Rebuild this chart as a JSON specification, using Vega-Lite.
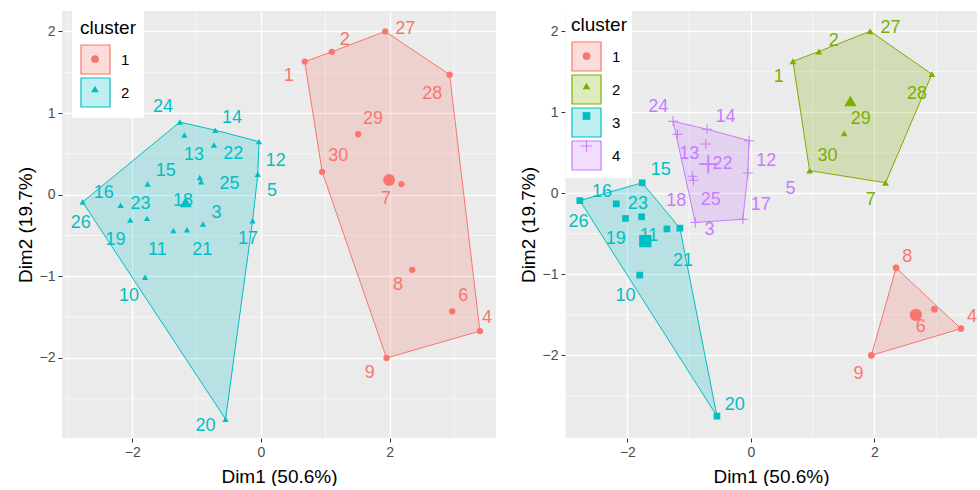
{
  "$schema": "https://vega.github.io/schema/vega-lite/v6.json",
  "padding": {"left": 16, "top": 10, "right": 0, "bottom": 0},
  "config": {
    "font": "Liberation Sans",
    "view": {"fill": "#EBEBEB", "stroke": null},
    "axis": {"grid": true, "gridColor": "#FFFFFF", "gridWidth": 1.3, "domain": false, "tickColor": "#333333", "tickSize": 4, "tickWidth": 1, "labelColor": "#4D4D4D", "labelFontSize": 14, "labelPadding": 3, "titleFontSize": 19, "titleFontWeight": "normal", "titleColor": "#000000", "format": "d"},
    "axisX": {"titlePadding": 8},
    "axisY": {"titlePadding": 3, "minExtent": 24, "maxExtent": 24},
    "concat": {"spacing": 22}
  },
  "datasets": {
    "pts": [
      {"id": 1, "x": 0.68, "y": 1.63, "k2": "1", "k4": "2", "lx2": 0.43, "ly2": 1.45, "lx4": 0.45, "ly4": 1.43},
      {"id": 2, "x": 1.10, "y": 1.75, "k2": "1", "k4": "2", "lx2": 1.30, "ly2": 1.89, "lx4": 1.34, "ly4": 1.88},
      {"id": 3, "x": -0.90, "y": -0.36, "k2": "2", "k4": "4", "lx2": -0.69, "ly2": -0.22, "lx4": -0.67, "ly4": -0.45},
      {"id": 4, "x": 3.40, "y": -1.67, "k2": "1", "k4": "1", "lx2": 3.51, "ly2": -1.51, "lx4": 3.58, "ly4": -1.53},
      {"id": 5, "x": -0.05, "y": 0.25, "k2": "2", "k4": "4", "lx2": 0.17, "ly2": 0.04, "lx4": 0.64, "ly4": 0.05},
      {"id": 6, "x": 2.97, "y": -1.43, "k2": "1", "k4": "1", "lx2": 3.14, "ly2": -1.24, "lx4": 2.75, "ly4": -1.65},
      {"id": 7, "x": 2.18, "y": 0.13, "k2": "1", "k4": "2", "lx2": 1.94, "ly2": -0.05, "lx4": 1.94, "ly4": -0.08},
      {"id": 8, "x": 2.35, "y": -0.92, "k2": "1", "k4": "1", "lx2": 2.13, "ly2": -1.11, "lx4": 2.53, "ly4": -0.79},
      {"id": 9, "x": 1.95, "y": -2.00, "k2": "1", "k4": "1", "lx2": 1.69, "ly2": -2.18, "lx4": 1.74, "ly4": -2.23},
      {"id": 10, "x": -1.80, "y": -1.01, "k2": "2", "k4": "3", "lx2": -2.05, "ly2": -1.24, "lx4": -2.03, "ly4": -1.27},
      {"id": 11, "x": -1.36, "y": -0.44, "k2": "2", "k4": "3", "lx2": -1.61, "ly2": -0.68, "lx4": -1.65, "ly4": -0.53},
      {"id": 12, "x": -0.03, "y": 0.65, "k2": "2", "k4": "4", "lx2": 0.23, "ly2": 0.41, "lx4": 0.25, "ly4": 0.40},
      {"id": 13, "x": -1.19, "y": 0.73, "k2": "2", "k4": "4", "lx2": -1.04, "ly2": 0.49, "lx4": -1.00, "ly4": 0.48},
      {"id": 14, "x": -0.71, "y": 0.79, "k2": "2", "k4": "4", "lx2": -0.45, "ly2": 0.94, "lx4": -0.41, "ly4": 0.94},
      {"id": 15, "x": -1.76, "y": 0.13, "k2": "2", "k4": "3", "lx2": -1.48, "ly2": 0.29, "lx4": -1.46, "ly4": 0.29},
      {"id": 16, "x": -2.18, "y": -0.13, "k2": "2", "k4": "3", "lx2": -2.44, "ly2": 0.02, "lx4": -2.41, "ly4": 0.02},
      {"id": 17, "x": -0.13, "y": -0.32, "k2": "2", "k4": "4", "lx2": -0.20, "ly2": -0.54, "lx4": 0.16, "ly4": -0.14},
      {"id": 18, "x": -0.93, "y": 0.16, "k2": "2", "k4": "4", "lx2": -1.21, "ly2": -0.08, "lx4": -1.21, "ly4": -0.09},
      {"id": 19, "x": -2.03, "y": -0.31, "k2": "2", "k4": "3", "lx2": -2.26, "ly2": -0.56, "lx4": -2.19, "ly4": -0.56},
      {"id": 20, "x": -0.55, "y": -2.75, "k2": "2", "k4": "3", "lx2": -0.86, "ly2": -2.83, "lx4": -0.26, "ly4": -2.61},
      {"id": 21, "x": -1.15, "y": -0.43, "k2": "2", "k4": "3", "lx2": -0.91, "ly2": -0.68, "lx4": -1.10, "ly4": -0.83},
      {"id": 22, "x": -0.73, "y": 0.61, "k2": "2", "k4": "4", "lx2": -0.43, "ly2": 0.50, "lx4": -0.46, "ly4": 0.36},
      {"id": 23, "x": -1.77, "y": -0.29, "k2": "2", "k4": "3", "lx2": -1.87, "ly2": -0.11, "lx4": -1.83, "ly4": -0.13},
      {"id": 24, "x": -1.26, "y": 0.89, "k2": "2", "k4": "4", "lx2": -1.52, "ly2": 1.07, "lx4": -1.50, "ly4": 1.06},
      {"id": 25, "x": -0.95, "y": 0.21, "k2": "2", "k4": "4", "lx2": -0.49, "ly2": 0.13, "lx4": -0.65, "ly4": -0.08},
      {"id": 26, "x": -2.77, "y": -0.09, "k2": "2", "k4": "3", "lx2": -2.80, "ly2": -0.35, "lx4": -2.79, "ly4": -0.35},
      {"id": 27, "x": 1.93, "y": 2.00, "k2": "1", "k4": "2", "lx2": 2.24, "ly2": 2.03, "lx4": 2.26, "ly4": 2.04},
      {"id": 28, "x": 2.93, "y": 1.47, "k2": "1", "k4": "2", "lx2": 2.66, "ly2": 1.23, "lx4": 2.69, "ly4": 1.23},
      {"id": 29, "x": 1.51, "y": 0.74, "k2": "1", "k4": "2", "lx2": 1.74, "ly2": 0.93, "lx4": 1.78, "ly4": 0.92},
      {"id": 30, "x": 0.95, "y": 0.28, "k2": "1", "k4": "2", "lx2": 1.20, "ly2": 0.48, "lx4": 1.24, "ly4": 0.46}
    ],
    "hull2": [
      {"grp": "c1", "ord": 1, "id": 1}, {"grp": "c1", "ord": 2, "id": 2}, {"grp": "c1", "ord": 3, "id": 27}, {"grp": "c1", "ord": 4, "id": 28}, {"grp": "c1", "ord": 5, "id": 4}, {"grp": "c1", "ord": 6, "id": 9}, {"grp": "c1", "ord": 7, "id": 30},
      {"grp": "c2", "ord": 1, "id": 24}, {"grp": "c2", "ord": 2, "id": 14}, {"grp": "c2", "ord": 3, "id": 12}, {"grp": "c2", "ord": 4, "id": 5}, {"grp": "c2", "ord": 5, "id": 17}, {"grp": "c2", "ord": 6, "id": 20}, {"grp": "c2", "ord": 7, "id": 26}
    ],
    "hull4": [
      {"grp": "c1", "ord": 1, "id": 8}, {"grp": "c1", "ord": 2, "id": 4}, {"grp": "c1", "ord": 3, "id": 9},
      {"grp": "c2", "ord": 1, "id": 1}, {"grp": "c2", "ord": 2, "id": 2}, {"grp": "c2", "ord": 3, "id": 27}, {"grp": "c2", "ord": 4, "id": 28}, {"grp": "c2", "ord": 5, "id": 7}, {"grp": "c2", "ord": 6, "id": 30},
      {"grp": "c3", "ord": 1, "id": 26}, {"grp": "c3", "ord": 2, "id": 15}, {"grp": "c3", "ord": 3, "id": 21}, {"grp": "c3", "ord": 4, "id": 20},
      {"grp": "c4", "ord": 1, "id": 24}, {"grp": "c4", "ord": 2, "id": 14}, {"grp": "c4", "ord": 3, "id": 12}, {"grp": "c4", "ord": 4, "id": 5}, {"grp": "c4", "ord": 5, "id": 17}, {"grp": "c4", "ord": 6, "id": 3}
    ],
    "cen2": [
      {"k2": "1", "x": 1.99, "y": 0.18},
      {"k2": "2", "x": -1.17, "y": -0.09}
    ],
    "cen4": [
      {"k4": "1", "x": 2.67, "y": -1.50},
      {"k4": "2", "x": 1.61, "y": 1.14},
      {"k4": "3", "x": -1.71, "y": -0.59},
      {"k4": "4", "x": -0.69, "y": 0.36}
    ],
    "gx": [{"v": -3}, {"v": -1}, {"v": 1}, {"v": 3}],
    "gy": [{"v": -2.5}, {"v": -1.5}, {"v": -0.5}, {"v": 0.5}, {"v": 1.5}]
  },
  "resolve": {
    "scale": {"x": "independent", "y": "independent", "color": "independent", "shape": "independent", "fill": "independent", "stroke": "independent"},
    "legend": {"color": "independent", "shape": "independent", "fill": "independent", "stroke": "independent"}
  },
  "hconcat": [
    {
      "width": 434,
      "height": 427,
      "layer": [
        {
          "data": {"name": "gx"},
          "mark": {"type": "rule", "color": "#FFFFFF", "strokeWidth": 0.6},
          "encoding": {"x": {"field": "v", "type": "quantitative", "title": "Dim1 (50.6%)"}}
        },
        {
          "data": {"name": "gy"},
          "mark": {"type": "rule", "color": "#FFFFFF", "strokeWidth": 0.6},
          "encoding": {"y": {"field": "v", "type": "quantitative", "title": "Dim2 (19.7%)"}}
        },
        {
          "data": {"name": "hull2"},
          "transform": [{"lookup": "id", "from": {"data": {"name": "pts"}, "key": "id", "fields": ["x", "y"]}}],
          "mark": {"type": "line", "interpolate": "linear-closed", "fillOpacity": 0.22, "strokeWidth": 1},
          "encoding": {
            "x": {"field": "x", "type": "quantitative", "title": "Dim1 (50.6%)", "scale": {"domain": [-3.09, 3.65], "nice": false, "zero": false}, "axis": {"values": [-2, 0, 2]}},
            "y": {"field": "y", "type": "quantitative", "title": "Dim2 (19.7%)", "scale": {"domain": [-2.98, 2.25], "nice": false, "zero": false}, "axis": {"values": [-2, -1, 0, 1, 2]}},
            "order": {"field": "ord", "type": "quantitative"},
            "fill": {"field": "grp", "type": "nominal", "scale": {"domain": ["c1", "c2"], "range": ["#F8766D", "#00BFC4"]},
              "legend": {"title": "cluster", "orient": "none", "legendX": 10, "legendY": 0, "symbolType": "square", "symbolSize": 841, "symbolStrokeWidth": 1.2, "fillColor": "#FFFFFF", "padding": 8, "titleFontSize": 19, "titleFontWeight": "normal", "titleColor": "#000000", "titlePadding": 6, "labelFontSize": 15, "labelColor": "#000000", "labelOffset": 10, "rowPadding": -5, "zindex": 1,
                "labelExpr": "replace(datum.label, 'c', '')",
                "encode": {"symbols": {"update": {"fillOpacity": {"value": 0.25}, "strokeOpacity": {"value": 1},
                  "stroke": [{"test": "datum.value === 'c1'", "value": "#F8766D"}, {"value": "#00BFC4"}]}}}}},
            "stroke": {"field": "grp", "type": "nominal", "scale": {"domain": ["c1", "c2"], "range": ["#F8766D", "#00BFC4"]}, "legend": null}
          }
        },
        {
          "data": {"name": "pts"},
          "mark": {"type": "point", "filled": true, "opacity": 1, "size": 40},
          "encoding": {
            "x": {"field": "x", "type": "quantitative", "title": "Dim1 (50.6%)"},
            "y": {"field": "y", "type": "quantitative", "title": "Dim2 (19.7%)"},
            "color": {"field": "k2", "type": "nominal", "scale": {"range": ["#F8766D", "#00BFC4"]},
              "legend": {"title": "cluster", "orient": "none", "legendX": 10, "legendY": 0, "symbolSize": 60, "symbolStrokeWidth": 0, "padding": 8, "titleFontSize": 19, "titleFontWeight": "normal", "titleColor": "transparent", "titlePadding": 6, "labelFontSize": 30, "labelColor": "transparent", "labelOffset": 10, "rowPadding": -5, "zindex": 2}},
            "shape": {"field": "k2", "type": "nominal", "scale": {"range": ["circle", "triangle-up"]},
              "legend": {"title": "cluster", "orient": "none", "legendX": 10, "legendY": 0, "symbolSize": 60, "symbolStrokeWidth": 0, "padding": 8, "titleFontSize": 19, "titleFontWeight": "normal", "titleColor": "transparent", "titlePadding": 6, "labelFontSize": 30, "labelColor": "transparent", "labelOffset": 10, "rowPadding": -5, "zindex": 2}}
          }
        },
        {
          "data": {"name": "pts"},
          "mark": {"type": "text", "fontSize": 18, "align": "center", "baseline": "middle"},
          "encoding": {
            "x": {"field": "lx2", "type": "quantitative", "title": "Dim1 (50.6%)"},
            "y": {"field": "ly2", "type": "quantitative", "title": "Dim2 (19.7%)"},
            "text": {"field": "id", "type": "nominal"},
            "color": {"condition": {"test": "datum.k2 === '1'", "value": "#F8766D"}, "value": "#00BFC4"}
          }
        },
        {
          "data": {"name": "cen2"},
          "mark": {"type": "point", "filled": true, "opacity": 1, "size": 140},
          "encoding": {
            "x": {"field": "x", "type": "quantitative", "title": "Dim1 (50.6%)"},
            "y": {"field": "y", "type": "quantitative", "title": "Dim2 (19.7%)"},
            "color": {"field": "k2", "type": "nominal"},
            "shape": {"field": "k2", "type": "nominal"}
          }
        }
      ]
    },
    {
      "width": 412,
      "height": 427,
      "layer": [
        {
          "data": {"name": "gx"},
          "mark": {"type": "rule", "color": "#FFFFFF", "strokeWidth": 0.6},
          "encoding": {"x": {"field": "v", "type": "quantitative", "title": "Dim1 (50.6%)"}}
        },
        {
          "data": {"name": "gy"},
          "mark": {"type": "rule", "color": "#FFFFFF", "strokeWidth": 0.6},
          "encoding": {"y": {"field": "v", "type": "quantitative", "title": "Dim2 (19.7%)"}}
        },
        {
          "data": {"name": "hull4"},
          "transform": [{"lookup": "id", "from": {"data": {"name": "pts"}, "key": "id", "fields": ["x", "y"]}}],
          "mark": {"type": "line", "interpolate": "linear-closed", "fillOpacity": 0.22, "strokeWidth": 1},
          "encoding": {
            "x": {"field": "x", "type": "quantitative", "title": "Dim1 (50.6%)", "scale": {"domain": [-3.01, 3.66], "nice": false, "zero": false}, "axis": {"values": [-2, 0, 2]}},
            "y": {"field": "y", "type": "quantitative", "title": "Dim2 (19.7%)", "scale": {"domain": [-3.02, 2.25], "nice": false, "zero": false}, "axis": {"values": [-2, -1, 0, 1, 2]}},
            "order": {"field": "ord", "type": "quantitative"},
            "fill": {"field": "grp", "type": "nominal", "scale": {"domain": ["c1", "c2", "c3", "c4"], "range": ["#F8766D", "#7CAE00", "#00BFC4", "#C77CFF"]},
              "legend": {"title": "cluster", "orient": "none", "legendX": 1, "legendY": 0, "symbolType": "square", "symbolSize": 841, "symbolStrokeWidth": 1.2, "fillColor": "#FFFFFF", "padding": 5, "titleFontSize": 19, "titleFontWeight": "normal", "titleColor": "#000000", "titlePadding": 6, "labelFontSize": 15, "labelColor": "#000000", "labelOffset": 10, "rowPadding": -5, "zindex": 1,
                "labelExpr": "replace(datum.label, 'c', '')",
                "encode": {"symbols": {"update": {"fillOpacity": {"value": 0.25}, "strokeOpacity": {"value": 1},
                  "stroke": [{"test": "datum.value === 'c1'", "value": "#F8766D"}, {"test": "datum.value === 'c2'", "value": "#7CAE00"}, {"test": "datum.value === 'c3'", "value": "#00BFC4"}, {"value": "#C77CFF"}]}}}}},
            "stroke": {"field": "grp", "type": "nominal", "scale": {"domain": ["c1", "c2", "c3", "c4"], "range": ["#F8766D", "#7CAE00", "#00BFC4", "#C77CFF"]}, "legend": null}
          }
        },
        {
          "data": {"name": "pts"},
          "mark": {"type": "point", "filled": true, "opacity": 1, "size": 45},
          "encoding": {
            "x": {"field": "x", "type": "quantitative", "title": "Dim1 (50.6%)"},
            "y": {"field": "y", "type": "quantitative", "title": "Dim2 (19.7%)"},
            "color": {"field": "k4", "type": "nominal", "scale": {"range": ["#F8766D", "#7CAE00", "#00BFC4", "#C77CFF"]},
              "legend": {"title": "cluster", "orient": "none", "legendX": 1.5, "legendY": 0, "symbolSize": 60, "symbolStrokeWidth": 0, "padding": 5, "titleFontSize": 19, "titleFontWeight": "normal", "titleColor": "transparent", "titlePadding": 6, "labelFontSize": 30, "labelColor": "transparent", "labelOffset": 10, "rowPadding": -5, "zindex": 2}},
            "shape": {"field": "k4", "type": "nominal", "scale": {"range": ["circle", "triangle-up", "square", "M-1.5,-0.15H-0.15V-1.5H0.15V-0.15H1.5V0.15H0.15V1.5H-0.15V0.15H-1.5Z"]},
              "legend": {"title": "cluster", "orient": "none", "legendX": 1.5, "legendY": 0, "symbolSize": 60, "symbolStrokeWidth": 0, "padding": 5, "titleFontSize": 19, "titleFontWeight": "normal", "titleColor": "transparent", "titlePadding": 6, "labelFontSize": 30, "labelColor": "transparent", "labelOffset": 10, "rowPadding": -5, "zindex": 2}}
          }
        },
        {
          "data": {"name": "pts"},
          "mark": {"type": "text", "fontSize": 18, "align": "center", "baseline": "middle"},
          "encoding": {
            "x": {"field": "lx4", "type": "quantitative", "title": "Dim1 (50.6%)"},
            "y": {"field": "ly4", "type": "quantitative", "title": "Dim2 (19.7%)"},
            "text": {"field": "id", "type": "nominal"},
            "color": {"condition": [{"test": "datum.k4 === '1'", "value": "#F8766D"}, {"test": "datum.k4 === '2'", "value": "#7CAE00"}, {"test": "datum.k4 === '3'", "value": "#00BFC4"}], "value": "#C77CFF"}
          }
        },
        {
          "data": {"name": "cen4"},
          "mark": {"type": "point", "filled": true, "opacity": 1, "size": 150},
          "encoding": {
            "x": {"field": "x", "type": "quantitative", "title": "Dim1 (50.6%)"},
            "y": {"field": "y", "type": "quantitative", "title": "Dim2 (19.7%)"},
            "color": {"field": "k4", "type": "nominal"},
            "shape": {"field": "k4", "type": "nominal"}
          }
        }
      ]
    }
  ]
}
